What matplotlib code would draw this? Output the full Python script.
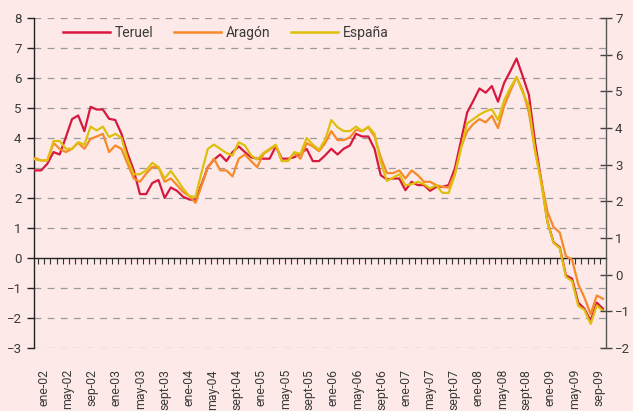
import matplotlib
matplotlib.use("Agg")
import matplotlib.pyplot as plt
import matplotlib.transforms as mtransforms
import numpy as np

plt.rcParams['font.family'] = ['Roboto', 'DejaVu Sans']

# --- Data (monthly, ene-02 .. sep-09) ---
teruel = [2.92, 2.92, 3.14, 3.53, 3.45, 4.03, 4.63, 4.75, 4.23, 5.04, 4.95, 4.95,
          4.64, 4.6, 4.14, 3.48, 2.92, 2.13, 2.13, 2.5, 2.6, 2.0, 2.35, 2.24,
          2.04, 1.95, 1.93, 2.47, 3.03, 3.28, 3.45, 3.23, 3.53, 3.72, 3.53, 3.36,
          3.31, 3.31, 3.31, 3.72, 3.31, 3.31, 3.36, 3.47, 3.64, 3.23, 3.23, 3.42,
          3.64, 3.45, 3.64, 3.75, 4.14, 4.05, 4.05, 3.64, 2.76, 2.62, 2.65, 2.65,
          2.26, 2.54, 2.43, 2.43, 2.24, 2.37, 2.37, 2.43, 2.98, 3.91, 4.85, 5.24,
          5.65, 5.51, 5.73, 5.21, 5.84, 6.23, 6.65, 6.06, 5.44, 3.86, 2.59, 1.21,
          0.52, 0.36, -0.58, -0.69, -1.49, -1.69, -2.09, -1.49, -1.69]
aragon = [3.33, 3.25, 3.25, 3.83, 3.64, 3.53, 3.64, 3.84, 3.64, 3.97, 4.05, 4.14,
          3.53, 3.75, 3.64, 3.14, 2.65, 2.54, 2.81, 3.03, 3.03, 2.54, 2.65, 2.43,
          2.2, 2.06, 1.84, 2.43, 3.01, 3.31, 2.92, 2.92, 2.72, 3.31, 3.45, 3.23,
          3.03, 3.47, 3.61, 3.75, 3.23, 3.25, 3.5, 3.31, 3.83, 3.72, 3.56, 3.83,
          4.23, 3.93, 3.93, 4.02, 4.27, 4.23, 4.36, 4.05, 3.36, 2.83, 2.83, 2.92,
          2.65, 2.92, 2.76, 2.54, 2.54, 2.43, 2.37, 2.35, 2.81, 3.69, 4.22, 4.47,
          4.63, 4.52, 4.74, 4.33, 5.07, 5.57, 6.03, 5.59, 4.85, 3.58, 2.59, 1.54,
          1.03, 0.85, 0.06, -0.06, -0.88, -1.32, -1.87, -1.25, -1.36]
espana = [3.29, 3.25, 3.25, 3.9, 3.9, 3.64, 3.64, 3.86, 3.78, 4.38, 4.25, 4.38,
          4.03, 4.14, 4.0, 3.31, 2.79, 2.79, 2.92, 3.17, 3.03, 2.65, 2.9, 2.62,
          2.31, 2.06, 2.04, 2.87, 3.64, 3.78, 3.64, 3.5, 3.42, 3.86, 3.75, 3.42,
          3.28, 3.5, 3.64, 3.78, 3.23, 3.23, 3.53, 3.47, 4.0, 3.78, 3.61, 3.94,
          4.6, 4.36, 4.23, 4.23, 4.38, 4.23, 4.38, 4.14, 3.2, 2.57, 2.68, 2.79,
          2.42, 2.46, 2.54, 2.46, 2.32, 2.43, 2.17, 2.17, 2.76, 3.64, 4.49, 4.63,
          4.78, 4.89, 4.96, 4.6, 5.26, 5.68, 6.03, 5.51, 5.07, 3.58, 2.48, 1.21,
          0.5, 0.33, -0.63, -0.77, -1.6, -1.73, -2.2, -1.58, -1.76]

tick_labels = ['ene-02', 'may-02', 'sep-02', 'ene-03', 'may-03', 'sept-03',
               'ene-04', 'may-04', 'sept-04', 'ene-05', 'may-05', 'sept-05',
               'ene-06', 'may-06', 'sept-06', 'ene-07', 'may-07', 'sept-07',
               'ene-08', 'may-08', 'sept-08', 'ene-09', 'may-09', 'sep-09']

series = [('Teruel', teruel, '#d7183f'),
          ('Aragón', aragon, '#f68a2a'),
          ('España', espana, '#dec00c')]

bg = '#fdeae8'
txt = '#3a3a3a'

fig = plt.figure(figsize=(6.33, 4.11), dpi=100, facecolor=bg)
ax = fig.add_axes([34 / 633, 1 - 348 / 411, 572 / 633, 330 / 411])
ax.set_facecolor(bg)

months = np.arange(len(teruel))
for name, vals, col in series:
    ax.plot(months, vals, color=col, lw=1.6, label=name, zorder=3)

ax.set_xlim(-0.16, len(months) - 1 + 0.49)
ax.set_ylim(-3, 8)
ax.set_yticks(range(-3, 9))
for v in range(-3, 9):
    if v != 0:
        ax.axhline(v, color='#9a9a9a', lw=0.9, ls=(0, (5.5, 5)), zorder=1)

# left axis
for s in ['top', 'right']:
    ax.spines[s].set_visible(False)
ax.spines['left'].set_color('#222222')
ax.spines['left'].set_linewidth(1.0)
ax.tick_params(axis='y', direction='out', length=5, width=1, color='#222222',
               labelsize=9.5, labelcolor=txt, pad=4)

# x axis at zero with monthly ticks
ax.spines['bottom'].set_position(('data', 0))
ax.spines['bottom'].set_color('#222222')
ax.spines['bottom'].set_linewidth(1.0)
ax.spines['bottom'].set_zorder(2)
ax.set_xticks([])
ax.set_xticks(months[:-1] + 0.5, minor=True)
ax.tick_params(axis='x', which='minor', direction='out', length=4.5, width=0.8,
               color='#333333')

# month labels below the plot
trans = mtransforms.blended_transform_factory(ax.transData, ax.transAxes)
label_pos = 1.46 + np.arange(len(tick_labels)) * 4 * 0.9765
for p, lab in zip(label_pos, tick_labels):
    ax.text(p, -0.064, lab, transform=trans, rotation=90, ha='center', va='top',
            fontsize=8.8, color=txt)

# right axis
ax2 = ax.twinx()
ax2.set_ylim(-2, 7)
ax2.set_yticks(range(-2, 8))
for s in ['top', 'left', 'bottom']:
    ax2.spines[s].set_visible(False)
ax2.spines['right'].set_color('#555555')
ax2.spines['right'].set_linewidth(1.0)
ax2.tick_params(axis='y', direction='inout', length=9, width=1, color='#444444',
                labelsize=9.5, labelcolor=txt, pad=2)

leg = ax.legend(ncol=3, loc='center left', bbox_to_anchor=(0.0507, 0.9545),
                frameon=False, fontsize=10, handlelength=3.4, handletextpad=0.35,
                columnspacing=1.45, borderpad=0, borderaxespad=0)
for t in leg.get_texts():
    t.set_color(txt)
for h in leg.get_lines():
    h.set_linewidth(1.8)

fig.savefig('out.png', dpi=100, facecolor=bg)
